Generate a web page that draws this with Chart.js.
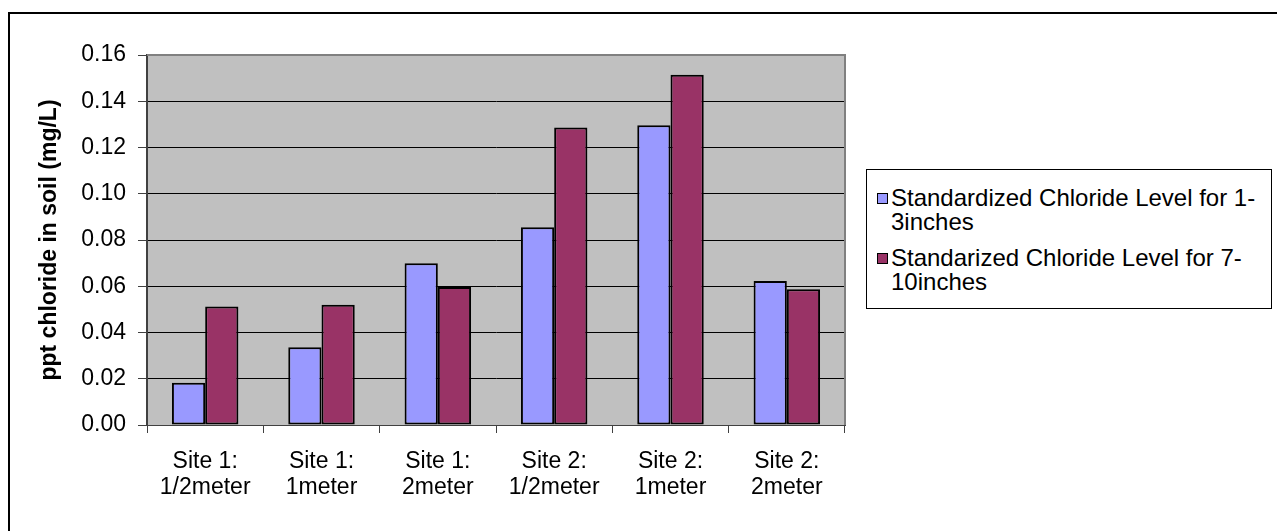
<!DOCTYPE html>
<html>
<head>
<meta charset="utf-8">
<script src="https://cdn.jsdelivr.net/npm/chart.js@4.4.0/dist/chart.umd.min.js"></script>
<style>
    html, body { margin: 0; padding: 0; background: #fff; overflow: hidden; }
    .wrap { position: relative; width: 1277px; height: 531px; overflow: hidden; }
    .frame { position: absolute; left: 8px; top: 12px; width: 1300px; height: 600px; border: 2px solid #000; }
    #chloride { position: absolute; left: 0; top: 0; }
    .legend {
        position: absolute; left: 866px; top: 169px; width: 404px; height: 138px;
        border: 1px solid #000; background: #fff;
        font-family: "Liberation Sans", Arial, sans-serif; font-size: 24px; line-height: 24px; color: #000;
    }
    .legend .item { position: absolute; left: 24px; width: 372px; }
    .legend .swatch { position: absolute; left: -14px; top: 7px; width: 9px; height: 9px; border: 1px solid #000; }
</style>
</head>
<body>
<div class="wrap">
    <div class="frame"></div>
    <canvas id="chloride" width="1277" height="531"></canvas>
    <div class="legend" id="legend"></div>
</div>
<script>
(function () {
    "use strict";

    var sites = [
        ["Site 1:", "1/2meter"],
        ["Site 1:", "1meter"],
        ["Site 1:", "2meter"],
        ["Site 2:", "1/2meter"],
        ["Site 2:", "1meter"],
        ["Site 2:", "2meter"]
    ];
    var shallow = [0.0183, 0.0336, 0.0699, 0.0855, 0.1296, 0.0623];
    var deep = [0.0512, 0.0520, 0.0597, 0.1287, 0.1515, 0.0587];
    var shallowLabel = "Standardized Chloride Level for 1-3inches";
    var deepLabel = "Standarized Chloride Level for 7-10inches";
    var yMax = 0.16;
    var yStep = 0.02;

    var font = "'Liberation Sans', Arial, sans-serif";

    // Chart Global Color
    Chart.defaults.color = "#000000";
    Chart.defaults.font.family = font;

    // gray plot area behind the grid, gray frame on top and right
    var plotArea = {
        id: "plotArea",
        beforeDraw: function (chart) {
            var a = chart.chartArea, ctx = chart.ctx;
            ctx.save();
            ctx.fillStyle = "#C0C0C0";
            ctx.fillRect(a.left, a.top, a.right - a.left, a.bottom - a.top);
            ctx.restore();
        },
        afterDatasetsDraw: function (chart) {
            var a = chart.chartArea, ctx = chart.ctx;
            ctx.save();
            ctx.strokeStyle = "#808080";
            ctx.lineWidth = 2;
            ctx.beginPath();
            ctx.moveTo(a.left, a.top);
            ctx.lineTo(a.right, a.top);
            ctx.lineTo(a.right, a.bottom);
            ctx.stroke();
            ctx.restore();
        }
    };

    var ctx = document.getElementById("chloride").getContext("2d");
    var chart = new Chart(ctx, {
        type: "bar",
        data: {
            labels: sites,
            datasets: [{
                    label: shallowLabel,
                    data: shallow,
                    backgroundColor: "#9999FF",
                    borderColor: "#000000",
                    borderWidth: 2,
                    borderSkipped: false
                },
                {
                    label: deepLabel,
                    data: deep,
                    backgroundColor: "#993366",
                    borderColor: "#000000",
                    borderWidth: 2,
                    borderSkipped: false
                }
            ]
        },
        options: {
            responsive: false,
            animation: false,
            devicePixelRatio: 1,
            categoryPercentage: 2 / 3.5,
            barPercentage: 1,
            layout: { padding: { left: 0, top: 55, right: 432, bottom: 0 } },
            plugins: {
                legend: { display: false },
                tooltip: { enabled: false }
            },
            scales: {
                x: {
                    afterFit: function (scale) { scale.height = 106; },
                    grid: {
                        offset: true,
                        drawOnChartArea: false,
                        tickLength: 8,
                        tickColor: "#404040"
                    },
                    border: { color: "#404040", width: 1 },
                    ticks: {
                        padding: 15,
                        maxRotation: 0,
                        font: { size: 23, lineHeight: 1.15 }
                    }
                },
                y: {
                    min: 0,
                    max: yMax,
                    afterFit: function (scale) { scale.width = 147; },
                    grid: {
                        color: "#000000",
                        lineWidth: 1,
                        tickLength: 9,
                        tickColor: "#404040"
                    },
                    border: { color: "#404040", width: 2 },
                    ticks: {
                        stepSize: yStep,
                        padding: 12,
                        font: { size: 23 },
                        callback: function (v) { return v.toFixed(2); }
                    },
                    title: {
                        display: true,
                        text: "ppt chloride in soil (mg/L)",
                        padding: { top: 36, bottom: 0 },
                        font: { size: 23, weight: "bold" }
                    }
                }
            }
        },
        plugins: [plotArea]
    });

    // Legend box with wrapped labels
    var legend = document.getElementById("legend");
    var tops = [16, 76];
    chart.data.datasets.forEach(function (ds, i) {
        var item = document.createElement("div");
        item.className = "item";
        item.style.top = tops[i] + "px";
        var sw = document.createElement("span");
        sw.className = "swatch";
        sw.style.background = ds.backgroundColor;
        item.appendChild(sw);
        item.appendChild(document.createTextNode(ds.label));
        legend.appendChild(item);
    });
})();
</script>
</body>
</html>
